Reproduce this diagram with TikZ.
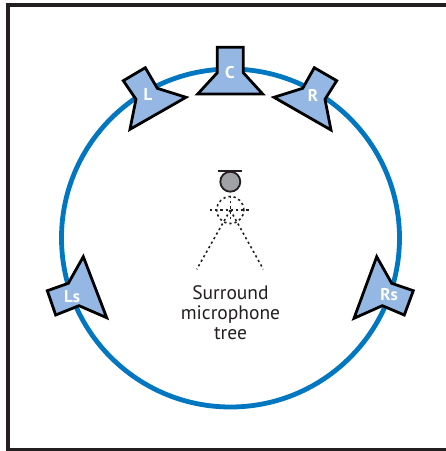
\documentclass[tikz,border=0pt]{standalone}
\usepackage{fontspec}
\setmainfont{PT Sans}
\definecolor{framec}{HTML}{231F20}
\definecolor{ringc}{HTML}{0077C0}
\definecolor{spk}{HTML}{94B8E3}
\definecolor{headc}{HTML}{A0A2A5}
\tikzset{
  spkshape/.style={draw=black,fill=spk,line width=2.8pt,line join=miter,miter limit=6},
  spklabel/.style={text=white,font=\bfseries\fontsize{17}{17}\selectfont,inner sep=0pt},
  dots/.style={draw=framec,line width=1.6pt,dash pattern=on 2.2pt off 3pt},
  caption/.style={text=framec,align=center,font=\fontsize{19.5}{20}\selectfont,inner sep=0pt}
}
\begin{document}
\begin{tikzpicture}[x=1pt,y=-1pt]
\useasboundingbox (0,0) rectangle (446,451);
\draw[framec,line width=3.6pt] (8,5) -- (447,5) (8,3.2) -- (8,450) (6.2,450) -- (447,450);
\draw[ringc,line width=4.8pt] (230.5,238) circle (169);
% speakers
\draw[spkshape] (217.3,47.3) -- (243.3,47.3) -- (243.3,72.7) -- (262.7,94) -- (197.7,94) -- (217.3,72.7) -- cycle;
\draw[spkshape] (123.3,80.7) -- (145.3,67.7) -- (157.3,88.3) -- (186,97.3) -- (130,129.3) -- (136,99.3) -- cycle;
\draw[spkshape] (336.7,80.7) -- (314.3,67.7) -- (302.7,88.3) -- (274,97.3) -- (331,130) -- (325,99.3) -- cycle;
\draw[spkshape] (47.3,290.7) -- (68.3,283.3) -- (83.3,256.7) -- (106.7,317.7) -- (79,305.7) -- (55.7,315) -- cycle;
\draw[spkshape] (413.3,290.7) -- (391.7,283.3) -- (376.7,256.7) -- (354,318.3) -- (382.3,305.7) -- (404.3,315) -- cycle;
\node[spklabel] (C) at (230,73) {C};
\node[spklabel] (L) at (148,95) {L};
\node[spklabel] (R) at (313,95) {R};
\node[spklabel] (Ls) at (72,297) {Ls};
\node[spklabel] (Rs) at (389,295) {Rs};
% microphone
\draw[framec,line width=1.8pt] (218.3,170.7) -- (242.3,170.7);
\node[draw=framec,fill=headc,line width=1.8pt,circle,minimum size=20pt,inner sep=0pt] (head) at (230.3,181.7) {};
\node[dots,circle,minimum size=27pt,inner sep=0pt] (capsule) at (230.3,210) {};
\coordinate (crossW) at (210,210);
\coordinate (crossE) at (250,210);
\coordinate (crossN) at (230.3,196);
\coordinate (crossS) at (230.3,222);
\coordinate (standL) at (196.7,269.3);
\coordinate (standR) at (263.3,269.3);
\draw[dots] (crossW) -- (crossE);
\draw[dots] (crossN) -- (crossS);
\draw[dots] (capsule.center) -- (standL);
\draw[dots] (capsule.center) -- (standR);
\node[caption] (cap) at (230.5,312.5) {Surround\\microphone\\tree};
\end{tikzpicture}
\end{document}
